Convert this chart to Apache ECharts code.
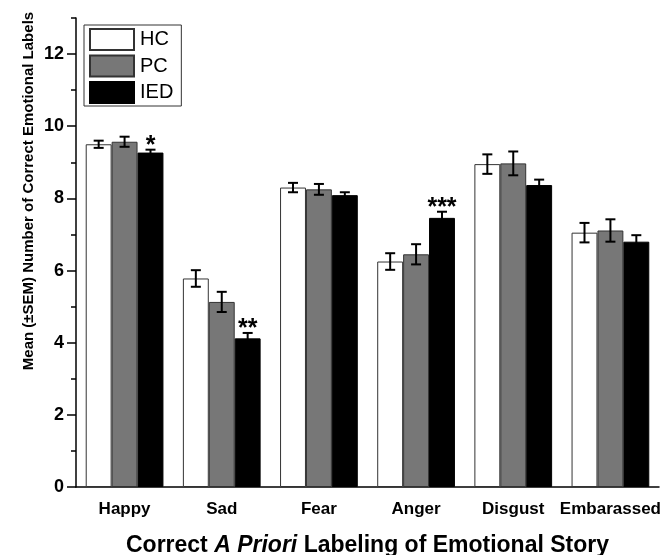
<!DOCTYPE html>
<html>
<head>
<meta charset="utf-8">
<script src="https://cdn.jsdelivr.net/npm/echarts@6/dist/echarts.min.js"></script>
<style>
  html, body { margin: 0; padding: 0; background: #fff; }
  #main { width: 664px; height: 555px; }
</style>
</head>
<body>
<div id="main"></div>
<script>
// categories + group means / SEM
var categories = ['Happy', 'Sad', 'Fear', 'Anger', 'Disgust', 'Embarassed'];
var hcMean = [9.5, 5.78, 8.3, 6.25, 8.95, 7.05];
var hcSem = [0.1, 0.23, 0.13, 0.23, 0.27, 0.27];
var pcMean = [9.57, 5.13, 8.25, 6.45, 8.97, 7.11];
var pcSem = [0.14, 0.28, 0.15, 0.28, 0.33, 0.31];
var iedMean = [9.27, 4.12, 8.09, 7.46, 8.37, 6.8];
var iedSem = [0.08, 0.15, 0.08, 0.17, 0.15, 0.18];
var sigMarks = ['*', '**', '', '***', '', ''];
var yTicks = [0, 2, 4, 6, 8, 10, 12];

var FONT = '"Liberation Sans", Arial, sans-serif';

// error bar for group g (0,1,2), optional stars above
function errorBars(g, marks) {
  return function (params, api) {
    var ci = api.value(0), m = api.value(1), e = api.value(2);
    var band = api.size([1, 0])[0];
    var bw = band * 0.8 / 3;
    var cx = api.coord([ci, m])[0] + (g - 1) * bw;
    var yHi = api.coord([ci, m + e])[1];
    var yLo = api.coord([ci, m - e])[1];
    var st = { stroke: '#000', lineWidth: 2 };
    var kids = [
      { type: 'line', shape: { x1: cx, y1: yHi, x2: cx, y2: yLo }, style: st },
      { type: 'line', shape: { x1: cx - 5, y1: yHi, x2: cx + 5, y2: yHi }, style: st },
      { type: 'line', shape: { x1: cx - 5, y1: yLo, x2: cx + 5, y2: yLo }, style: st }
    ];
    if (marks && marks[ci]) {
      kids.push({
        type: 'text',
        style: {
          text: marks[ci], x: cx, y: yHi - 4,
          align: 'center', verticalAlign: 'middle',
          font: 'bold 25px ' + FONT, fill: '#000'
        }
      });
    }
    return { type: 'group', children: kids };
  };
}

function rows(mean, sem) {
  return categories.map(function (c, i) { return [i, mean[i], sem[i]]; });
}

var chart = echarts.init(document.getElementById('main'));
chart.setOption({
  animation: false,
  textStyle: { fontFamily: FONT },
  grid: { left: 76, right: 5, top: 18, bottom: 68, containLabel: false, outerBoundsMode: 'none' },
  legend: {
    data: ['HC', 'PC', 'IED'],
    icon: 'rect',
    orient: 'vertical',
    left: 84,
    top: 25,
    itemWidth: 44,
    itemHeight: 21,
    itemGap: 3.5,
    padding: [3, 8, 2, 5],
    borderColor: '#333',
    borderWidth: 1,
    borderRadius: 0,
    textStyle: { fontSize: 20, color: '#000', fontFamily: FONT, padding: [0, 0, 0, 1] },
    selectedMode: false
  },
  xAxis: {
    type: 'category',
    data: categories,
    axisLine: { lineStyle: { color: '#000', width: 1.5 } },
    axisTick: { alignWithLabel: true, length: 6, lineStyle: { color: '#000', width: 1.5 } },
    axisLabel: { interval: 0, fontSize: 17, fontWeight: 'bold', color: '#000', margin: 14, fontFamily: FONT },
    name: '{n|Correct }{i|A Priori}{n| Labeling of Emotional Story}',
    nameLocation: 'middle',
    nameGap: 47,
    nameTextStyle: {
      rich: {
        n: { fontSize: 23, fontWeight: 'bold', color: '#000', fontFamily: FONT },
        i: { fontSize: 23, fontWeight: 'bold', fontStyle: 'italic', color: '#000', fontFamily: FONT }
      }
    }
  },
  yAxis: [
    {
      type: 'value', min: 0, max: 13, interval: 1,
      axisLine: { show: true, lineStyle: { color: '#000', width: 1.5 } },
      axisTick: { show: true, length: 5, lineStyle: { color: '#000', width: 1.5 } },
      axisLabel: { show: false },
      splitLine: { show: false }
    },
    {
      type: 'value', min: 0, max: 13, position: 'left', offset: 0,
      axisLine: { show: false },
      axisTick: { show: true, customValues: yTicks, length: 9, lineStyle: { color: '#000', width: 1.5 } },
      axisLabel: { customValues: yTicks, fontSize: 18, fontWeight: 'bold', color: '#000', margin: 12, fontFamily: FONT },
      splitLine: { show: false }
    }
  ],
  graphic: [{
    type: 'text',
    x: 29, y: 191,
    rotation: Math.PI / 2,
    style: {
      text: 'Mean (±SEM) Number of Correct Emotional Labels',
      align: 'center', verticalAlign: 'middle',
      font: 'bold 15px ' + FONT, fill: '#000'
    }
  }],
  series: [
    { name: 'HC', type: 'bar', data: hcMean, barGap: 0, barCategoryGap: '20%',
      itemStyle: { color: '#fff', borderColor: '#333', borderWidth: 1 } },
    { name: 'PC', type: 'bar', data: pcMean, barGap: 0, barCategoryGap: '20%',
      itemStyle: { color: '#777', borderColor: '#333', borderWidth: 1 } },
    { name: 'IED', type: 'bar', data: iedMean, barGap: 0, barCategoryGap: '20%',
      itemStyle: { color: '#000', borderColor: '#000', borderWidth: 1 } },
    { type: 'custom', renderItem: errorBars(0), data: rows(hcMean, hcSem), encode: { x: 0, y: 1 }, z: 5 },
    { type: 'custom', renderItem: errorBars(1), data: rows(pcMean, pcSem), encode: { x: 0, y: 1 }, z: 5 },
    { type: 'custom', renderItem: errorBars(2, sigMarks), data: rows(iedMean, iedSem), encode: { x: 0, y: 1 }, z: 5 }
  ]
});
</script>
</body>
</html>
